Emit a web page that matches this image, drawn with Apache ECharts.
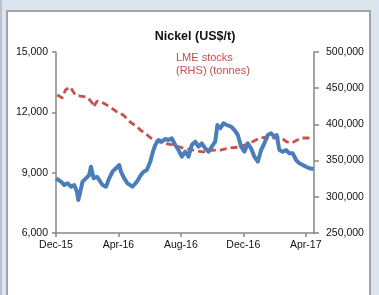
<!DOCTYPE html>
<html>
<head>
<meta charset="utf-8">
<script src="https://cdn.jsdelivr.net/npm/echarts@6/dist/echarts.min.js"></script>
<style>
  html, body { margin: 0; padding: 0; }
  body { width: 379px; height: 295px; background: #dbe5f0; position: relative; overflow: hidden; }
  .edge { position: absolute; left: 0; top: 0; width: 2px; height: 295px; background: #b9c2cc; }
  .panel { position: absolute; left: 6px; top: 10px; width: 361px; height: 290px; background: #fff;
           border: 2px solid #a3a3a3; border-bottom: none; }
  #chart { position: absolute; left: 0; top: 0; width: 379px; height: 295px; }
</style>
</head>
<body>
<div class="edge"></div>
<div class="panel"></div>
<div id="chart"></div>
<script>
// x positions are months counted from Dec-15
const tickLabels = ['Dec-15', 'Apr-16', 'Aug-16', 'Dec-16', 'Apr-17'];

const priceMonths = [0.00, 0.32, 0.53, 0.74, 0.96, 1.17, 1.34, 1.43, 1.56, 1.70,
  1.92, 2.13, 2.24, 2.41, 2.62, 2.77, 2.98, 3.20, 3.41, 3.62,
  3.84, 4.05, 4.16, 4.37, 4.58, 4.90, 5.18, 5.44, 5.61, 5.82,
  6.04, 6.21, 6.36, 6.57, 6.78, 6.99, 7.21, 7.42, 7.64, 7.85,
  8.06, 8.28, 8.49, 8.70, 8.92, 9.13, 9.34, 9.56, 9.77, 9.98,
  10.20, 10.34, 10.52, 10.73, 10.94, 11.22, 11.43, 11.65, 11.86, 12.07,
  12.29, 12.50, 12.71, 12.93, 13.14, 13.35, 13.57, 13.78, 13.99, 14.14,
  14.31, 14.53, 14.74, 14.95, 15.17, 15.38, 15.59, 15.81, 16.02, 16.23, 16.49];
const nickelPrice = [8720, 8551, 8387, 8472, 8303, 8387, 8054, 7641, 8054, 8551,
  8720, 8884, 9297, 8720, 8800, 8636, 8387, 8303, 8720, 9049,
  9219, 9381, 9049, 8720, 8472, 8303, 8551, 8884, 9049, 9133,
  9546, 10043, 10376, 10625, 10540, 10674, 10625, 10709, 10376, 10127,
  9794, 10043, 9794, 10376, 10540, 10292, 10461, 10212, 10043, 10292,
  10540, 11370, 11206, 11455, 11370, 11286, 11122, 10873, 10292, 10043,
  10461, 10212, 9794, 9546, 10127, 10461, 10873, 10958, 10789, 10873,
  10127, 10043, 10127, 9963, 9963, 9630, 9466, 9382, 9297, 9218, 9180];

const stockMonths = [0.08, 0.41, 0.60, 0.91, 1.24, 1.56, 2.00, 2.32, 2.39, 2.64, 3.03, 3.47, 3.92, 4.31,
  4.75, 5.21, 5.40, 5.84, 6.23, 6.86, 7.51, 8.14, 8.79, 9.42, 10.07, 10.52, 11.15, 11.79, 12.43, 13.07,
  13.52, 13.91, 14.35, 14.80, 15.12, 15.45, 15.76, 16.27];
const lmeStocks = [440600, 436500, 447500, 451700, 440600, 439200, 437800, 429600, 424000, 432300, 429600,
  424000, 417100, 413000, 403300, 396400, 392300, 385400, 378500, 374300, 371500, 367400, 364600, 361900,
  364600, 364600, 367400, 368800, 374300, 381200, 382600, 381200, 382600, 375700, 374300, 378500, 381200, 381200];

const font = '"Liberation Sans", Arial, sans-serif';
const axisColor = '#878787';
const fmt = v => v.toLocaleString('en-US');

const chart = echarts.init(document.getElementById('chart'), null, { renderer: 'canvas' });
chart.setOption({
  animation: false,
  backgroundColor: 'transparent',
  title: {
    text: 'Nickel (US$/t)',
    left: 190,
    top: 25,
    textAlign: 'center',
    textStyle: { fontFamily: font, fontSize: 12.5, fontWeight: 'bold', color: '#111' }
  },
  graphic: [{
    type: 'text',
    left: 176,
    top: 51,
    style: {
      text: 'LME stocks\n(RHS) (tonnes)',
      fill: '#c0504d',
      font: '11px ' + font,
      lineHeight: 13.4
    }
  }],
  grid: { left: 56, right: 65, top: 52, bottom: 62, containLabel: false },
  xAxis: {
    type: 'value',
    min: 0,
    max: 16.53,
    interval: 4,
    splitLine: { show: false },
    axisLine: { lineStyle: { color: axisColor, width: 1.5 } },
    axisTick: { show: true, length: 4, lineStyle: { color: axisColor, width: 1.5 } },
    axisLabel: {
      margin: 7,
      fontFamily: font, fontSize: 10.5, color: '#111',
      showMaxLabel: false,
      formatter: v => (v % 4 === 0 ? tickLabels[v / 4] : '')
    }
  },
  yAxis: [{
    type: 'value',
    min: 6000,
    max: 15000,
    interval: 3000,
    splitLine: { show: false },
    axisLine: { show: true, lineStyle: { color: axisColor, width: 1.5 } },
    axisTick: { show: true, length: 4, lineStyle: { color: axisColor, width: 1.5 } },
    axisLabel: { margin: 8, fontFamily: font, fontSize: 10.5, color: '#111', formatter: fmt }
  }, {
    type: 'value',
    min: 250000,
    max: 500000,
    interval: 50000,
    position: 'right',
    splitLine: { show: false },
    axisLine: { show: true, lineStyle: { color: axisColor, width: 1.5 } },
    axisTick: { show: true, length: 5, lineStyle: { color: axisColor, width: 1.5 } },
    axisLabel: { margin: 12, fontFamily: font, fontSize: 10.5, color: '#111', formatter: fmt }
  }],
  series: [{
    name: 'LME stocks',
    type: 'line',
    yAxisIndex: 1,
    data: stockMonths.map((m, i) => [m, lmeStocks[i]]),
    showSymbol: false,
    lineStyle: { color: '#c9504c', width: 2.8, type: [7, 4] },
    z: 2
  }, {
    name: 'Nickel',
    type: 'line',
    data: priceMonths.map((m, i) => [m, nickelPrice[i]]),
    showSymbol: false,
    lineStyle: { color: '#4a7ebb', width: 4, join: 'round' },
    z: 3
  }]
});
</script>
</body>
</html>
